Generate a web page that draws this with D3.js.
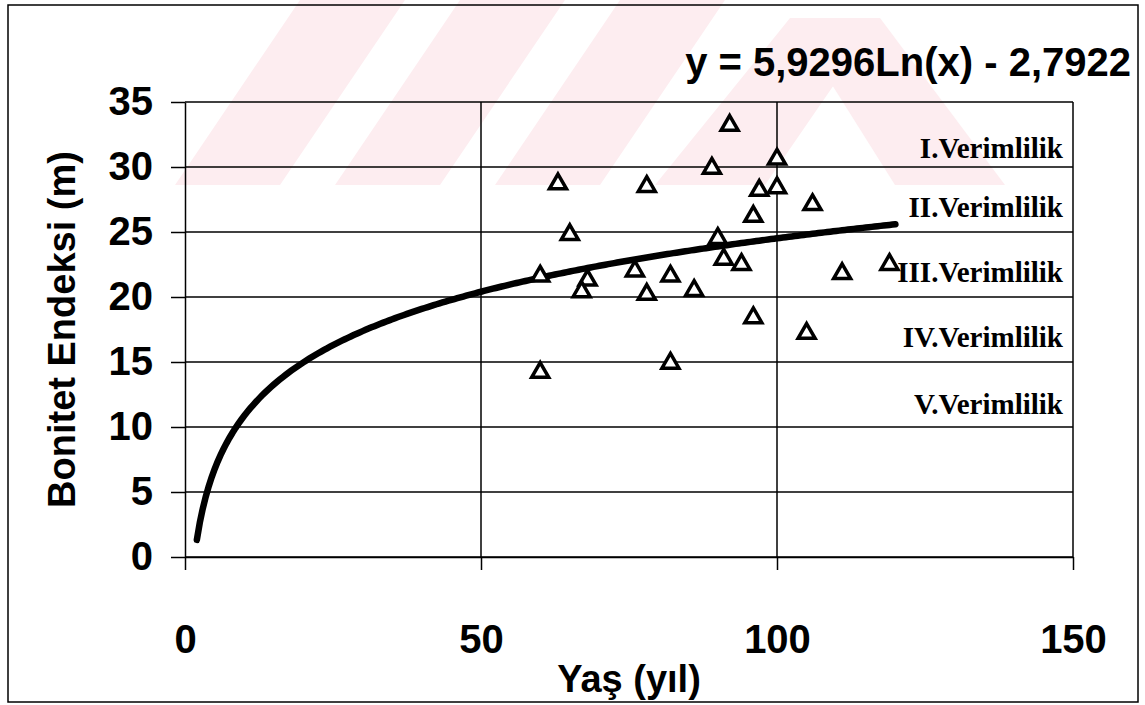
<!DOCTYPE html>
<html>
<head>
<meta charset="utf-8">
<script src="https://cdn.jsdelivr.net/npm/d3@7"></script>
<style>
  body { margin: 0; background: #fff; }
  svg text { fill: #000; }
</style>
</head>
<body>
<script>
"use strict";

// measured points (age in years, site index in m)
var ages = [92, 100, 89, 63, 78, 100, 97, 106, 96, 65, 90, 60, 68, 67, 76,
    82, 91, 94, 111, 119, 86, 78, 96, 105, 60, 82];
var indexes = [33.2, 30.6, 29.9, 28.7, 28.5, 28.4, 28.2, 27.1, 26.2, 24.8, 24.5, 21.6, 21.3, 20.4, 22.0,
    21.6, 22.9, 22.5, 21.8, 22.5, 20.5, 20.2, 18.4, 17.2, 14.2, 14.9];

// logarithmic trend line y = a*ln(x) + b
var trendA = 5.9296;
var trendB = -2.7922;
var trendRange = [2, 120];

var classNames = ["I.Verimlilik", "II.Verimlilik", "III.Verimlilik", "IV.Verimlilik", "V.Verimlilik"];
var classLevels = [31.5, 26.9, 21.9, 16.9, 11.8];

var xTicks = [0, 50, 100, 150];
var yTicks = [0, 5, 10, 15, 20, 25, 30, 35];

function init() {
    var w = 1145;
    var h = 705;

    var svg = d3.select("body")
        .append("svg")
        .attr("width", w)
        .attr("height", h);

    svg.append("rect")
        .attr("width", w)
        .attr("height", h)
        .attr("fill", "#fff");

    // faint watermark of the scanned page
    var wm = svg.append("g").attr("fill", "#fdedf0");
    [175, 335, 495].forEach(function (x0) {
        wm.append("path")
            .attr("d", "M" + x0 + ",185L" + (x0 + 105) + ",185L" + (x0 + 230) + ",0L" + (x0 + 125) + ",0Z");
    });
    wm.append("path").attr("d", "M655,185L765,185L880,18L790,18Z");
    wm.append("path").attr("d", "M790,18L880,18L1005,185L895,185Z");

    var x = d3.scaleLinear().domain([0, 150]).range([185, 1073]);
    var y = d3.scaleLinear().domain([0, 35]).range([557, 102]);

    // gridlines
    svg.append("g")
        .selectAll("line")
        .data(yTicks)
        .enter()
        .append("line")
        .attr("x1", x(0))
        .attr("x2", x(150))
        .attr("y1", function (d) { return y(d); })
        .attr("y2", function (d) { return y(d); })
        .attr("stroke", "#000")
        .attr("stroke-width", 1.5);

    svg.append("g")
        .selectAll("line")
        .data(xTicks.slice(1))
        .enter()
        .append("line")
        .attr("x1", function (d) { return x(d); })
        .attr("x2", function (d) { return x(d); })
        .attr("y1", y(0))
        .attr("y2", y(35))
        .attr("stroke", "#000")
        .attr("stroke-width", 1.5);

    // axes
    var yAxis = svg.append("g")
        .attr("transform", "translate(" + x(0) + ",0)")
        .call(d3.axisLeft(y).tickValues(yTicks).tickSize(14).tickSizeOuter(0).tickPadding(18));

    var xAxis = svg.append("g")
        .attr("transform", "translate(0," + y(0) + ")")
        .call(d3.axisBottom(x).tickValues(xTicks).tickSize(13).tickSizeOuter(0).tickPadding(55));

    [xAxis, yAxis].forEach(function (g) {
        g.select(".domain").attr("stroke", "#000").attr("stroke-width", 1.5);
        g.selectAll(".tick line").attr("stroke", "#000").attr("stroke-width", 1.5);
        g.selectAll(".tick text")
            .attr("font-family", "Liberation Sans, Arial, sans-serif")
            .attr("font-weight", "bold")
            .attr("font-size", 40)
            .attr("fill", "#000");
    });

    // trend line
    var trendX = d3.range(trendRange[0], trendRange[1] + 0.25, 0.5);
    var line = d3.line()
        .x(function (d) { return x(d); })
        .y(function (d) { return y(trendA * Math.log(d) + trendB); });

    svg.append("path")
        .datum(trendX)
        .attr("d", line)
        .attr("fill", "none")
        .attr("stroke", "#000")
        .attr("stroke-width", 6.5)
        .attr("stroke-linecap", "round");

    // points
    var tri = d3.symbol().type(d3.symbolTriangle).size(125);
    svg.append("g")
        .selectAll("path")
        .data(ages)
        .enter()
        .append("path")
        .attr("d", tri)
        .attr("transform", function (d, i) {
            return "translate(" + x(d) + "," + y(indexes[i]) + ")";
        })
        .attr("fill", "#fff")
        .attr("stroke", "#000")
        .attr("stroke-width", 3.5)
        .attr("stroke-linejoin", "miter");

    // site classes
    svg.append("g")
        .selectAll("text")
        .data(classNames)
        .enter()
        .append("text")
        .attr("x", 1063)
        .attr("y", function (d, i) { return y(classLevels[i]); })
        .attr("dy", "0.35em")
        .attr("text-anchor", "end")
        .attr("font-family", "Liberation Serif, Times New Roman, serif")
        .attr("font-weight", "bold")
        .attr("font-size", 29)
        .text(function (d) { return d; });

    // equation
    svg.append("text")
        .attr("x", 1131)
        .attr("y", 76)
        .attr("text-anchor", "end")
        .attr("font-family", "Liberation Sans, Arial, sans-serif")
        .attr("font-weight", "bold")
        .attr("font-size", 40)
        .text("y = 5,9296Ln(x) - 2,7922");

    // axis titles
    svg.append("text")
        .attr("x", x(75))
        .attr("y", 692)
        .attr("text-anchor", "middle")
        .attr("font-family", "Liberation Sans, Arial, sans-serif")
        .attr("font-weight", "bold")
        .attr("font-size", 38)
        .text("Yaş (yıl)");

    svg.append("text")
        .attr("transform", "translate(75," + y(17.5) + ") rotate(-90)")
        .attr("text-anchor", "middle")
        .attr("font-family", "Liberation Sans, Arial, sans-serif")
        .attr("font-weight", "bold")
        .attr("font-size", 38)
        .text("Bonitet Endeksi (m)");

    // outer frame
    svg.append("rect")
        .attr("x", 8)
        .attr("y", 5)
        .attr("width", 1130)
        .attr("height", 697)
        .attr("fill", "none")
        .attr("stroke", "#000")
        .attr("stroke-width", 1.5);
}

window.onload = init;
</script>
</body>
</html>
